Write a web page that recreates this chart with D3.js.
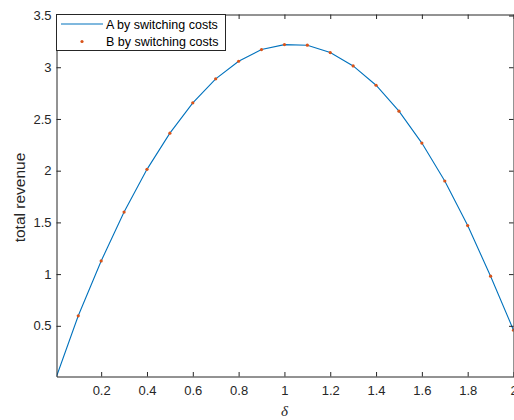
<!DOCTYPE html>
<html>
<head>
<meta charset="utf-8">
<script src="https://cdn.jsdelivr.net/npm/d3@7"></script>
<style>
  body { margin: 0; background: #fff; }
  text { font-family: "Liberation Sans", Arial, sans-serif; }
</style>
</head>
<body>
<div id="chart"></div>
<script>
// line A: delta vs total revenue
const deltaA = [0.005, 0.1, 0.2, 0.3, 0.4, 0.5, 0.6, 0.7, 0.8, 0.9, 1.0, 1.1, 1.2, 1.3, 1.4, 1.5, 1.6, 1.7, 1.8, 1.9, 2.0];
const revenueA = [0.01, 0.597, 1.127, 1.600, 2.013, 2.363, 2.656, 2.888, 3.058, 3.171, 3.219, 3.213, 3.142, 3.013, 2.826, 2.575, 2.267, 1.900, 1.469, 0.980, 0.458];
// markers B
const deltaB = [0.1, 0.2, 0.3, 0.4, 0.5, 0.6, 0.7, 0.8, 0.9, 1.0, 1.1, 1.2, 1.3, 1.4, 1.5, 1.6, 1.7, 1.8, 1.9, 2.0];
const revenueB = [0.597, 1.127, 1.600, 2.013, 2.363, 2.656, 2.888, 3.058, 3.171, 3.219, 3.213, 3.142, 3.013, 2.826, 2.575, 2.267, 1.900, 1.469, 0.980, 0.458];

const xTicks = [0.2, 0.4, 0.6, 0.8, 1, 1.2, 1.4, 1.6, 1.8, 2];
const yTicks = [0.5, 1, 1.5, 2, 2.5, 3, 3.5];
const legendLabels = ["A by switching costs", "B by switching costs"];

const width = 514, height = 420;
const mLeft = 56.5, mRight = 513.5, mTop = 14.5, mBottom = 376.5;
const axisColor = "#262626";

const svg = d3.select("#chart").append("svg")
    .attr("width", width)
    .attr("height", height);

const x = d3.scaleLinear().domain([0.005, 2]).range([mLeft, mRight]);
const y = d3.scaleLinear().domain([0.01, 3.51]).range([mBottom, mTop]);

svg.append("clipPath").attr("id", "clip")
    .append("rect")
    .attr("x", mLeft).attr("y", mTop)
    .attr("width", mRight - mLeft).attr("height", mBottom - mTop);

const plot = svg.append("g").attr("clip-path", "url(#clip)");

const lineData = deltaA.map((d, i) => ({x: d, y: revenueA[i]}));
plot.append("path")
    .datum(lineData)
    .attr("fill", "none")
    .attr("stroke", "#0072BD")
    .attr("stroke-width", 1.1)
    .attr("d", d3.line().x(d => x(d.x)).y(d => y(d.y)));

const dotData = deltaB.map((d, i) => ({x: d, y: revenueB[i]}));
plot.selectAll(".dot")
    .data(dotData)
    .enter().append("circle")
    .attr("class", "dot")
    .attr("cx", d => x(d.x))
    .attr("cy", d => y(d.y))
    .attr("r", 1.6)
    .attr("fill", "#D95319");

// axes (ticks pointing inward, box on)
const fmt = d => d3.format("~g")(d);

const xAxis = svg.append("g")
    .attr("transform", `translate(0,${mBottom})`)
    .call(d3.axisBottom(x).tickValues(xTicks).tickFormat(fmt).tickSizeInner(-4.5).tickSizeOuter(0).tickPadding(9));
const xTop = svg.append("g")
    .attr("transform", `translate(0,${mTop})`)
    .call(d3.axisTop(x).tickValues(xTicks).tickFormat("").tickSizeInner(-4.5).tickSizeOuter(0));
const yAxis = svg.append("g")
    .attr("transform", `translate(${mLeft},0)`)
    .call(d3.axisLeft(y).tickValues(yTicks).tickFormat(fmt).tickSizeInner(-4.5).tickSizeOuter(0).tickPadding(5));
const yRight = svg.append("g")
    .attr("transform", `translate(${mRight},0)`)
    .call(d3.axisRight(y).tickValues(yTicks).tickFormat("").tickSizeInner(-4.5).tickSizeOuter(0));

[xAxis, xTop, yAxis, yRight].forEach(g => {
    g.select(".domain").attr("stroke", axisColor).attr("stroke-width", 1);
    g.selectAll(".tick line").attr("stroke", axisColor).attr("stroke-width", 1);
    g.selectAll(".tick text").attr("fill", axisColor).style("font-size", "13px")
        .style("font-family", "'Liberation Sans', Arial, sans-serif");
});

// axis labels
svg.append("text")
    .attr("x", x(1))
    .attr("y", 416)
    .attr("text-anchor", "middle")
    .attr("fill", axisColor)
    .style("font-family", "'Liberation Serif', 'Times New Roman', serif")
    .style("font-style", "italic")
    .style("font-size", "15px")
    .text("δ");

svg.append("text")
    .attr("transform", `translate(25,${(mTop + mBottom) / 2 + 2}) rotate(-90)`)
    .attr("text-anchor", "middle")
    .attr("fill", axisColor)
    .style("font-size", "15.5px")
    .text("total revenue");

// legend
const legend = svg.append("g");
legend.append("rect")
    .attr("x", mLeft).attr("y", mTop)
    .attr("width", 169).attr("height", 36)
    .attr("fill", "#fff")
    .attr("stroke", axisColor)
    .attr("stroke-width", 1);

legend.append("line")
    .attr("x1", 61).attr("x2", 103)
    .attr("y1", 24).attr("y2", 24)
    .attr("stroke", "#0072BD")
    .attr("stroke-width", 1.1);
legend.append("circle")
    .attr("cx", 82).attr("cy", 41.5)
    .attr("r", 1.6)
    .attr("fill", "#D95319");

legend.selectAll(".lab")
    .data(legendLabels)
    .enter().append("text")
    .attr("class", "lab")
    .attr("x", 106)
    .attr("y", (d, i) => 28.5 + i * 17)
    .attr("fill", "#000")
    .style("font-size", "12.5px")
    .text(d => d);
</script>
</body>
</html>
